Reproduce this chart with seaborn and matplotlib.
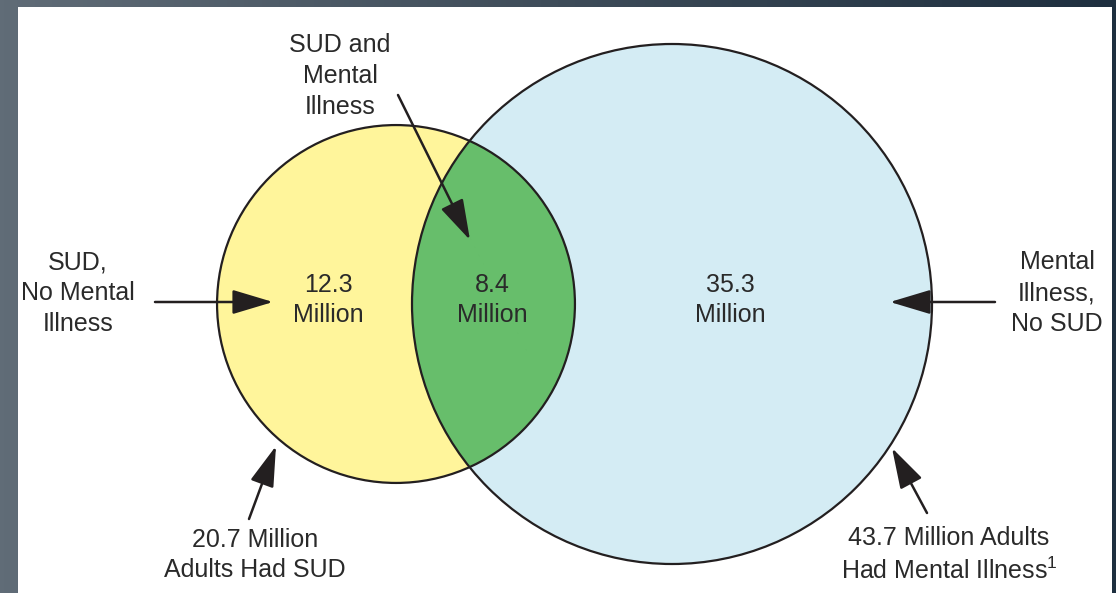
import numpy as np
import matplotlib
matplotlib.use("Agg")
import matplotlib.pyplot as plt
import seaborn as sns
from matplotlib.patches import Circle, Rectangle, FancyArrowPatch
from matplotlib.colors import LinearSegmentedColormap

sns.set_style("white")
plt.rcParams['font.family'] = ['Liberation Sans', 'DejaVu Sans']
plt.rcParams['mathtext.fontset'] = 'custom'
plt.rcParams['mathtext.rm'] = 'Liberation Sans'

# Data (millions of adults)
total_labels = ["SUD", "Mental Illness"]
totals = [20.7, 43.7]
region_names = ["SUD, No Mental Illness", "SUD and Mental Illness", "Mental Illness, No SUD"]
region_values = [12.3, 8.4, 35.3]

ink = "#231f20"
yellow = "#fff59b"
blue = "#d4ecf4"
green = "#67be6b"

fig = plt.figure(figsize=(11.16, 5.93), dpi=100)
ax = fig.add_axes([0, 0, 1, 1])
ax.set_xlim(0, 1116)
ax.set_ylim(593, 0)
ax.axis("off")

# slide background + white panel
grad = np.linspace(0, 1, 256)[None, :]
bg = LinearSegmentedColormap.from_list("bg", ["#606c77", "#3e4c59", "#1e2f3f"])
ax.imshow(grad, extent=[0, 1116, 593, 0], aspect="auto", cmap=bg, zorder=0)
ax.add_patch(Rectangle((18, 7), 1094, 600, fc="white", ec="none", zorder=1))

# circle areas proportional to totals
scale = 260 / np.sqrt(43.7)
r_sud = scale * np.sqrt(totals[0])
r_mi = scale * np.sqrt(totals[1])
c_sud = (396, 304)
c_mi = (672, 304)

yel = Circle(c_sud, r_sud, fc=yellow, ec="none", zorder=2)
blu = Circle(c_mi, r_mi, fc=blue, ec="none", zorder=2)
ax.add_patch(yel)
ax.add_patch(blu)
both = Circle(c_sud, r_sud, fc=green, ec="none", zorder=3)
ax.add_patch(both)
both.set_clip_path(blu)
for c, r in [(c_sud, r_sud), (c_mi, r_mi)]:
    ax.add_patch(Circle(c, r, fill=False, ec=ink, lw=1.6, zorder=4))

fs = 18
txt = dict(color="#2a2a2a", fontsize=fs, ha="center", va="center", zorder=6, linespacing=1.36)

# region values
for x, v in zip([328, 492, 730], region_values):
    ax.text(x, 300, f"{v}\nMillion", **txt)

# callout labels
ax.text(340, 76, "SUD and\nMental\nIllness", **txt)
ax.text(78, 293, "SUD,\nNo Mental\nIllness", **txt)
ax.text(1057, 293, "Mental\nIllness,\nNo SUD", **txt)
ax.text(255, 555, f"{totals[0]} Million\nAdults Had {total_labels[0]}", **txt)
ax.text(949, 555, f"{totals[1]} Million Adults\nHad {total_labels[1]}$^\\mathregular{{1}}$", **txt)

def arrow(p0, p1):
    ax.add_patch(FancyArrowPatch(p0, p1, arrowstyle="-|>,head_length=1.4,head_width=0.42",
                                 mutation_scale=18, color=ink, lw=1.8, zorder=7,
                                 shrinkA=0, shrinkB=0))

arrow((398, 95), (470, 240))
arrow((155, 302), (273, 302))
arrow((995, 302), (890, 302))
arrow((249, 519), (276, 446))
arrow((927, 513), (892, 448))

fig.savefig("out.png", dpi=100)
